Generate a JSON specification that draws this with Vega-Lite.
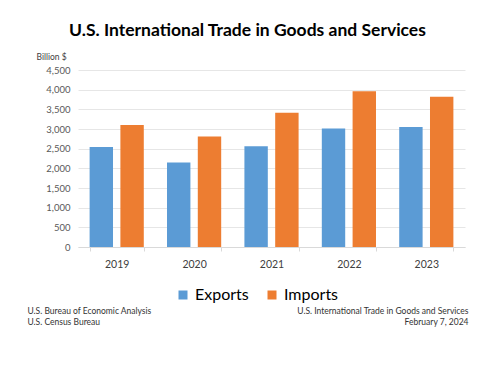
{
  "$schema": "https://vega.github.io/schema/vega-lite/v6.json",
  "autosize": "none",
  "padding": {"left": 78, "top": 70, "right": 35, "bottom": 119},
  "width": 387,
  "height": 177,
  "background": "white",
  "config": {"font": "Lato", "view": {"stroke": null}},
  "title": {
    "text": "U.S. International Trade in Goods and Services",
    "anchor": "middle",
    "frame": "group",
    "dx": -24,
    "offset": 13,
    "fontSize": 17.5,
    "fontWeight": "bold",
    "color": "#000000"
  },
  "data": {
    "values": [
      {"year": "2019", "type": "Exports", "value": 2540},
      {"year": "2019", "type": "Imports", "value": 3100},
      {"year": "2020", "type": "Exports", "value": 2150},
      {"year": "2020", "type": "Imports", "value": 2810},
      {"year": "2021", "type": "Exports", "value": 2560},
      {"year": "2021", "type": "Imports", "value": 3410},
      {"year": "2022", "type": "Exports", "value": 3010},
      {"year": "2022", "type": "Imports", "value": 3960},
      {"year": "2023", "type": "Exports", "value": 3050},
      {"year": "2023", "type": "Imports", "value": 3820}
    ]
  },
  "layer": [
    {
      "mark": {"type": "bar"},
      "encoding": {
        "x": {
          "field": "year", "type": "nominal",
          "scale": {"paddingInner": 0.3, "paddingOuter": 0.15},
          "axis": {
            "labelAngle": 0, "labelFontSize": 10.5, "labelColor": "#404040", "labelPadding": 8,
            "domainColor": "#d9d9d9", "tickColor": "#d9d9d9", "tickBand": "extent", "tickSize": 4,
            "title": ["U.S. Bureau of Economic Analysis", "U.S. Census Bureau"],
            "titleX": -51, "titleY": 59.5, "titleAlign": "left", "titleBaseline": "top",
            "titleFontSize": 8.5, "titleFontWeight": "normal", "titleColor": "#333333", "titleLineHeight": 11
          }
        },
        "xOffset": {"field": "type", "type": "nominal", "scale": {"paddingInner": 0.24, "paddingOuter": 0}},
        "y": {
          "field": "value", "type": "quantitative",
          "scale": {"domain": [0, 4500], "nice": false},
          "axis": {
            "values": [0, 500, 1000, 1500, 2000, 2500, 3000, 3500, 4000, 4500],
            "format": ",.0f", "labelFontSize": 9.5, "labelColor": "#595959", "labelPadding": 8,
            "domain": false, "ticks": false, "gridColor": "#e6e6e6",
            "title": "Billion $", "titleAngle": 0, "titleX": -42, "titleY": -14,
            "titleAlign": "left", "titleBaseline": "middle", "titleFontSize": 8.5,
            "titleFontWeight": "normal", "titleColor": "#404040"
          }
        },
        "color": {
          "field": "type", "type": "nominal",
          "scale": {"domain": ["Exports", "Imports"], "range": ["#5B9BD5", "#ED7D31"]},
          "legend": {
            "orient": "none", "legendX": 97, "legendY": 217, "direction": "horizontal",
            "title": null, "symbolType": "square", "symbolSize": 81, "symbolStrokeWidth": 0,
            "symbolOpacity": 1, "labelFontSize": 16, "labelColor": "#000000", "labelOffset": 4,
            "columnPadding": 15
          }
        }
      }
    },
    {
      "mark": {"type": "point", "opacity": 0},
      "encoding": {
        "x": {"field": "year", "type": "nominal"},
        "y": {
          "field": "value", "type": "quantitative",
          "axis": {
            "orient": "right", "labels": false, "ticks": false, "domain": false, "grid": false,
            "title": ["U.S. International Trade in Goods and Services", "February 7, 2024"],
            "titleAngle": 0, "titleX": 3, "titleY": 236.5, "titleAlign": "right", "titleBaseline": "top",
            "titleFontSize": 8.5, "titleFontWeight": "normal", "titleColor": "#333333", "titleLineHeight": 11
          }
        }
      }
    }
  ],
  "resolve": {"axis": {"y": "independent"}}
}
